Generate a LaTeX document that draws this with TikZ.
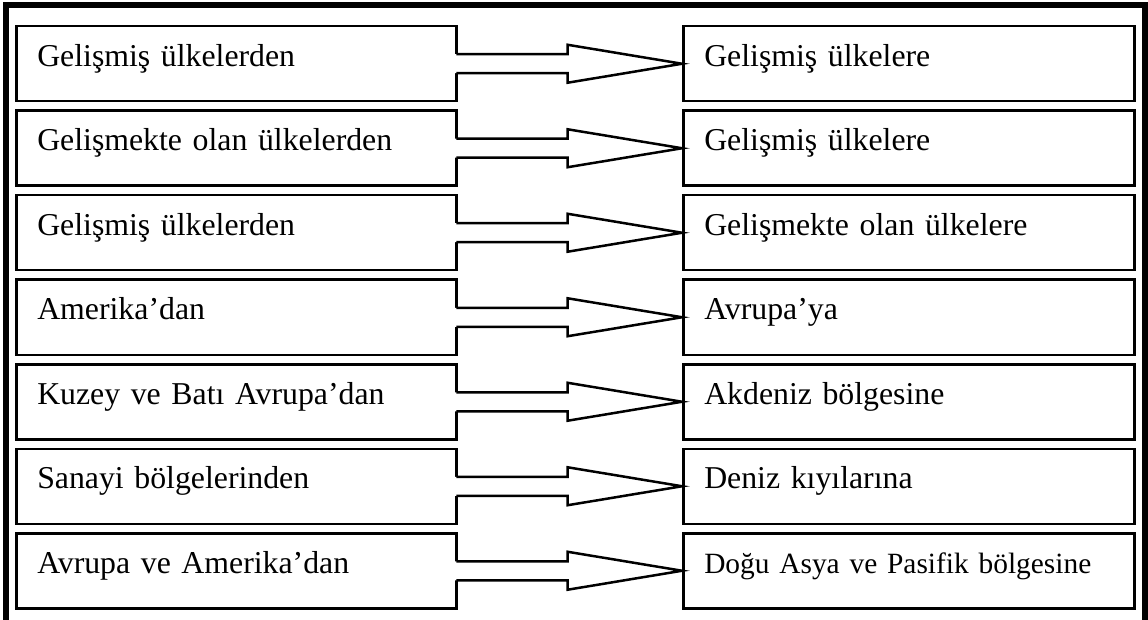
\documentclass[tikz,border=0pt]{standalone}
\usepackage{fontspec}
\setmainfont{Liberation Serif}
\usetikzlibrary{calc}
\tikzset{
  x=1pt, y=-1pt,
  frame/.style={line width=6pt, line cap=butt, line join=miter},
  flowbox/.style={draw, line width=2.5pt, inner xsep=21pt, inner ysep=0pt,
    text height=24pt, text depth=19pt, minimum height=75pt, align=left,
    anchor=north west, font=\fontsize{31.8}{38}\selectfont},
  srcbox/.style={flowbox, text width=398pt},
  dstbox/.style={flowbox, text width=409pt},
  arrowfill/.style={fill=white},
  arrowline/.style={draw, line width=2.5pt, line join=miter}
}
\begin{document}
\begin{tikzpicture}
\useasboundingbox (0,0) rectangle (1148,620);
% outer frame (open at the bottom)
\draw[frame] (5.5,620) -- (5.5,5) -- (1145,5) -- (1145,620);

% source / destination boxes
\foreach \i/\src/\dst/\fs in {
  1/Gelişmiş ülkelerden/Gelişmiş ülkelere/31.8,
  2/Gelişmekte olan ülkelerden/Gelişmiş ülkelere/31.8,
  3/Gelişmiş ülkelerden/Gelişmekte olan ülkelere/31.8,
  4/Amerika’dan/Avrupa’ya/31.8,
  5/Kuzey ve Batı Avrupa’dan/Akdeniz bölgesine/31.8,
  6/Sanayi bölgelerinden/Deniz kıyılarına/31.8,
  7/Avrupa ve Amerika’dan/Doğu Asya ve Pasifik bölgesine/29.4}{
  \pgfmathsetmacro{\top}{25+84.5*(\i-1)}
  \node[srcbox] (L\i) at (15,\top) {\src};
  \node[dstbox, font=\fontsize{\fs}{38}\selectfont] (R\i) at (682,\top) {\dst};
  % block arrow from source to destination: white body opens the box edge
  \fill[arrowfill]
    ($(L\i.east)+(-3,-9.5)$) -- ($(L\i.east)+(110,-9.5)$)
    -- ($(L\i.east)+(110,-19)$) -- (R\i.west)
    -- ($(L\i.east)+(110,19)$) -- ($(L\i.east)+(110,9.5)$)
    -- ($(L\i.east)+(-3,9.5)$) -- cycle;
  \path[arrowline]
    ($(L\i.east)+(-1.25,-9.5)$) -- ($(L\i.east)+(110,-9.5)$)
    -- ($(L\i.east)+(110,-19)$) -- (R\i.west)
    -- ($(L\i.east)+(110,19)$) -- ($(L\i.east)+(110,9.5)$)
    -- ($(L\i.east)+(-1.25,9.5)$);
}
\end{tikzpicture}
\end{document}
